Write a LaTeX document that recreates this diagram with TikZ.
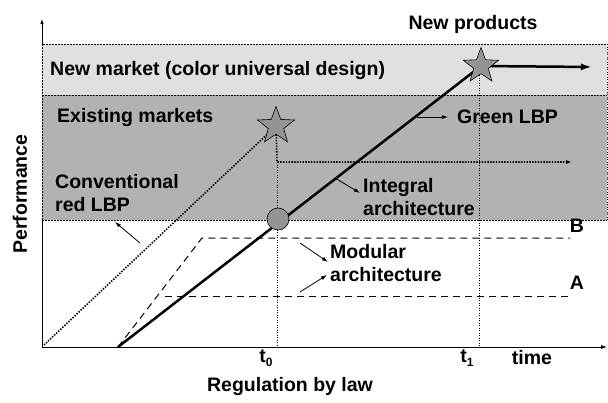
\documentclass[tikz,border=0pt]{standalone}
\usepackage{fontspec}
\setmainfont{Liberation Sans}
\usetikzlibrary{arrows.meta,shapes.geometric,positioning}
\definecolor{lightband}{gray}{0.88}
\definecolor{darkband}{gray}{0.70}
\definecolor{markfill}{gray}{0.58}

\begin{document}
\begin{tikzpicture}[
    x=1pt, y=-1pt,
    every node/.style={
        font=\fontsize{19.5}{23}\selectfont\bfseries,
        inner sep=0pt
    },
    txt/.style={anchor=west, align=left},
    bandline/.style={line width=0.6pt, dash pattern=on 2pt off 1pt},
    guide/.style={line width=0.8pt, dash pattern=on 1.2pt off 1.3pt},
    trend/.style={line width=2.5pt},
    tracks/.style={line width=1.6pt, dash pattern=on 1.4pt off 1.4pt},
    modular/.style={line width=1pt, dash pattern=on 7pt off 5pt},
    pointer/.style={line width=0.8pt, -{Latex[length=6pt,width=4pt]}},
    starmark/.style={
        star, star points=5, star point ratio=2.4,
        draw, fill=markfill, line width=0.6pt,
        minimum size=39pt
    }
]
\useasboundingbox (0,0) rectangle (608,402);

% market bands
\fill[lightband] (42,44) rectangle (607,95);
\fill[darkband] (42,95) rectangle (607,220);
\draw[bandline] (42,220) -- (42,44) -- (607,44);
\draw[bandline] (42,95) -- (607,95);
\draw[bandline] (42,220) -- (607,220);
\draw[guide] (607,44) -- (607,220);

% axes
\coordinate (O) at (42,347);
\coordinate (xend) at (607,347);
\coordinate (bandlow) at (42,220);
\coordinate (bandtop) at (42,44);
\coordinate (ytop) at (42,19);
\draw[line width=0.8pt, -{Latex[length=6pt,width=4pt]}] (O) -- (xend);
\draw[line width=0.8pt] (O) -- (bandlow);
\draw[line width=0.8pt, -{Latex[length=5pt,width=3.5pt]}] (bandtop) -- (ytop);

% key points
\coordinate (exist) at (276,126);
\coordinate (newprod) at (481,66);
\coordinate (cross) at (278,219);
\coordinate (greenstart) at (118,347);
\coordinate (redstart) at (44,345);
\coordinate (newend) at (592,67);
\coordinate (bend) at (277,162);
\coordinate (existend) at (572,162);
\coordinate (tzerofoot) at (277,347);
\coordinate (tonefoot) at (479,347);
\coordinate (tonetop) at (479,70);
\coordinate (Bcorner) at (202,238);
\coordinate (Bend) at (570,238);
\coordinate (Astart) at (165,296);
\coordinate (Aend) at (570,296);

% time guides
\draw[guide] (bend) -- (tzerofoot);
\draw[guide] (tonetop) -- (tonefoot);

% modular architecture
\draw[modular] (greenstart) -- (Bcorner) -- (Bend);
\draw[modular] (Astart) -- (Aend);

% conventional and green LBP
\draw[tracks] (redstart) -- (exist);
\draw[tracks, -{Latex[length=6pt,width=4pt]}] (exist) -- (bend) -- (existend);
\draw[trend] (greenstart) -- (newprod);
\draw[trend, -{Latex[length=11pt,width=7pt]}] (newprod) -- (newend);

\node[starmark] (existstar) at (exist) {};
\node[starmark, minimum size=37pt] (newstar) at (newprod) {};
\node[circle, draw, fill=markfill, line width=0.6pt, minimum size=22pt] (crossdot) at (cross) {};

% labels
\node (newproducts) at (473,24) {New products};
\node[txt] (newmarket) at (50,70) {New market (color universal design)};
\node[txt] (existing) at (57,117) {Existing markets};
\node[txt] (green) at (457,117) {Green LBP};
\node[txt] (conventional) at (55,193) {Conventional\\red LBP};
\node[txt] (integral) at (363,197) {Integral\\architecture};
\node[txt] (modularlbl) at (330,263) {Modular\\architecture};
\node (lblB) at (577,226) {B};
\node (lblA) at (577,283) {A};
\node (tzero) at (266,358) {t\raisebox{-4pt}{\fontsize{12}{12}\selectfont 0}};
\node (tone) at (467,358) {t\raisebox{-4pt}{\fontsize{12}{12}\selectfont 1}};
\node (time) at (532,358) {time};
\node (regulation) at (290,386) {Regulation by law};
\node[rotate=90] (performance) at (20,194) {Performance};

% pointers
\coordinate (redfrom) at (140,243);
\coordinate (redto) at (115,222);
\coordinate (greenfrom) at (417,117);
\coordinate (integralfrom) at (335,178);
\coordinate (integralto) at (360,193);
\coordinate (modfromB) at (300,243);
\coordinate (modtoB) at (328,262);
\coordinate (modfromA) at (300,292);
\coordinate (modtoA) at (327,275);
\draw[pointer] (redfrom) -- (redto);
\draw[pointer, shorten >=9pt] (greenfrom) -- (green.west);
\draw[pointer] (integralfrom) -- (integralto);
\draw[pointer] (modfromB) -- (modtoB);
\draw[pointer] (modfromA) -- (modtoA);
\end{tikzpicture}
\end{document}
